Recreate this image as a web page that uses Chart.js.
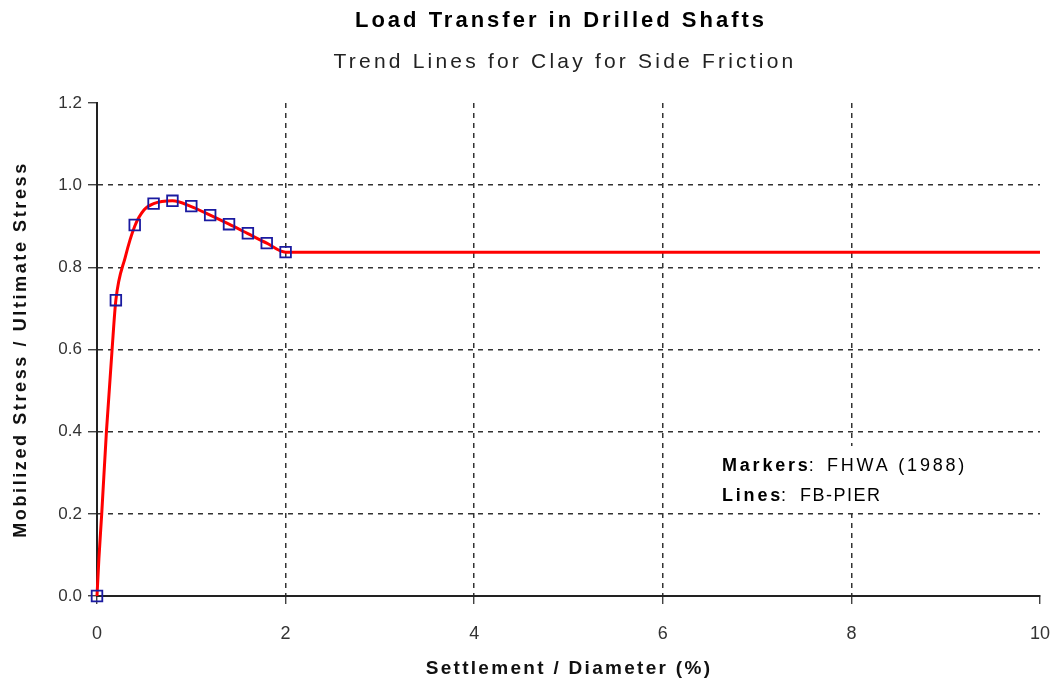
<!DOCTYPE html>
<html lang="en">
<head>
    <meta charset="UTF-8">
    <title>Load Transfer in Drilled Shafts</title>
    <script src="https://cdn.jsdelivr.net/npm/chart.js"></script>
    <style>
        body { margin: 0; background: #fff; }
        #wrap { width: 1055px; height: 683px; }
    </style>
</head>
<body>
    <div id="wrap"><canvas id="myChart"></canvas></div>

    <script>
        // FB-PIER trend line (clay, side friction)
        const lineX = [0, 0.02, 0.05, 0.1, 0.16, 0.2, 0.3, 0.4, 0.5, 0.6, 0.8, 1.0, 1.2, 1.4, 1.6, 1.8, 2.0, 10];
        const lineY = [0, 0.09, 0.2, 0.4, 0.6, 0.72, 0.825, 0.9, 0.94, 0.955, 0.962, 0.948, 0.927, 0.905, 0.882, 0.859, 0.837, 0.837];

        // FHWA (1988) markers
        const markX = [0, 0.2, 0.4, 0.6, 0.8, 1.0, 1.2, 1.4, 1.6, 1.8, 2.0];
        const markY = [0, 0.72, 0.903, 0.955, 0.962, 0.949, 0.927, 0.905, 0.883, 0.859, 0.837];

        const titleText = 'Load Transfer in Drilled Shafts';
        const subtitleText = 'Trend Lines for Clay for Side Friction';
        const xTitle = 'Settlement / Diameter (%)';
        const yTitle = 'Mobilized Stress / Ultimate Stress';

        const FONT = '"Liberation Sans", Arial, sans-serif';

        // titles, axis titles and the note inside the plot
        const textPlugin = {
            id: 'texts',
            beforeDatasetsDraw(chart) {
                // white box behind the note hides the grid line
                const ctx = chart.ctx;
                ctx.save();
                ctx.fillStyle = '#fff';
                ctx.fillRect(712, 446, 275, 66);
                ctx.restore();
            },
            afterDraw(chart) {
                const ctx = chart.ctx;
                const area = chart.chartArea;
                ctx.save();
                ctx.textAlign = 'center';
                ctx.textBaseline = 'middle';

                ctx.fillStyle = '#000';
                ctx.letterSpacing = '3px';
                ctx.font = 'bold 22px ' + FONT;
                ctx.fillText(titleText, 561, 21);
                ctx.fillStyle = '#222';
                ctx.letterSpacing = '3.2px';
                ctx.font = '21px ' + FONT;
                ctx.fillText(subtitleText, 565, 62);

                // axis titles
                ctx.fillStyle = '#111';
                ctx.letterSpacing = '2.3px';
                ctx.font = 'bold 19px ' + FONT;
                ctx.fillText(xTitle, 569, 669);
                ctx.save();
                ctx.translate(21, (area.top + area.bottom) / 2);
                ctx.rotate(-Math.PI / 2);
                ctx.letterSpacing = '2.6px';
                ctx.font = 'bold 18px ' + FONT;
                ctx.fillText(yTitle, 0, 0);
                ctx.restore();

                // note
                ctx.textAlign = 'left';
                ctx.fillStyle = '#000';
                const nx = 722, ny1 = 466, ny2 = 496;
                ctx.letterSpacing = '2.8px';
                ctx.font = 'bold 18px ' + FONT;
                ctx.fillText('Markers', nx, ny1);
                let w = ctx.measureText('Markers').width;
                ctx.font = '18px ' + FONT;
                ctx.fillText(':', nx + w - 2, ny1);
                ctx.fillText('FHWA (1988)', 827, ny1);
                ctx.font = 'bold 18px ' + FONT;
                ctx.fillText('Lines', nx, ny2);
                w = ctx.measureText('Lines').width;
                ctx.font = '18px ' + FONT;
                ctx.fillText(':', nx + w - 2, ny2);
                ctx.letterSpacing = '1.5px';
                ctx.fillText('FB-PIER', 800, ny2);
                ctx.restore();
            }
        };

        const ctx = document.getElementById('myChart').getContext('2d');
        const myChart = new Chart(ctx, {
            type: 'scatter',
            data: {
                datasets: [{
                    label: 'FHWA (1988)',
                    data: markX.map((x, i) => ({ x: x, y: markY[i] })),
                    pointStyle: 'rect',
                    pointRadius: 7.5,
                    pointBorderWidth: 1.8,
                    pointBorderColor: '#1a1aa0',
                    pointBackgroundColor: 'rgba(255,255,255,0)',
                    showLine: false,
                    clip: false
                }, {
                    label: 'FB-PIER',
                    data: lineX.map((x, i) => ({ x: x, y: lineY[i] })),
                    showLine: true,
                    borderColor: '#ff0000',
                    borderWidth: 3,
                    pointRadius: 0,
                    cubicInterpolationMode: 'monotone',
                    clip: false
                }]
            },
            options: {
                responsive: true,
                maintainAspectRatio: false,
                animation: false,
                layout: { padding: { top: 103, right: 15, left: 0, bottom: 0 } },
                plugins: {
                    legend: { display: false },
                    tooltip: { enabled: false }
                },
                scales: {
                    x: {
                        type: 'linear',
                        min: 0,
                        max: 10,
                        ticks: {
                            stepSize: 2,
                            color: '#333',
                            padding: 19,
                            font: { family: FONT, size: 18 }
                        },
                        grid: {
                            color: c => (c.tick && (c.tick.value === 10 || c.tick.value === 0)) ? 'rgba(0,0,0,0)' : '#333',
                            lineWidth: 1.5,
                            tickColor: '#222',
                            tickLength: 8,
                            tickWidth: 1.2
                        },
                        border: { display: true, color: '#222', width: 2, dash: [5, 5] },
                        afterFit: s => { s.height = 87; s.paddingLeft = 0; s.paddingRight = 0; }
                    },
                    y: {
                        min: 0,
                        max: 1.2,
                        ticks: {
                            stepSize: 0.2,
                            color: '#333',
                            padding: 6,
                            font: { family: FONT, size: 17 },
                            callback: v => v.toFixed(1)
                        },
                        grid: {
                            color: c => (c.tick && (Math.abs(c.tick.value - 1.2) < 1e-6 || c.tick.value === 0)) ? 'rgba(0,0,0,0)' : '#333',
                            lineWidth: 1.5,
                            tickColor: '#222',
                            tickLength: 9,
                            tickWidth: 1.2
                        },
                        border: { display: true, color: '#222', width: 2, dash: [5, 5] },
                        afterFit: s => { s.width = 97; s.paddingTop = 0; s.paddingBottom = 0; }
                    }
                }
            },
            plugins: [textPlugin]
        });
    </script>
</body>
</html>
